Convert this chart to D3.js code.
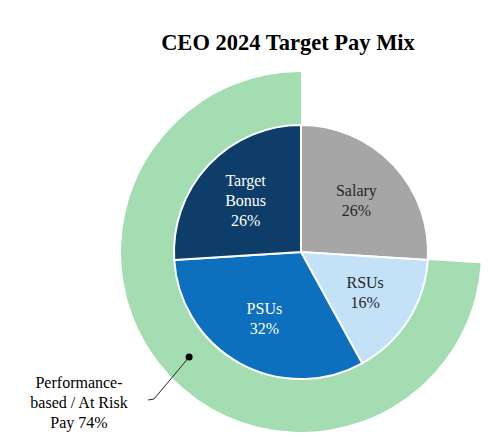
<!DOCTYPE html>
<head>
<meta charset="utf-8">
<title>CEO 2024 Target Pay Mix</title>
<script src="https://d3js.org/d3.v7.min.js"></script>
<style type="text/css">
body { margin: 0; background: #fff; }
text { font-family: "Liberation Serif", "Times New Roman", serif; }
</style>
</head>

<body>
<script type="text/javascript">

// data
const categories = ["Salary", "RSUs", "PSUs", "Target Bonus"];
const shares = [26, 16, 32, 26];
const sliceColors = ["#a6a6a6", "#c3e2f8", "#0c70be", "#0d3d68"];
const textColors = ["#262626", "#262626", "#ffffff", "#ffffff"];
const labelLines = [["Salary"], ["RSUs"], ["PSUs"], ["Target", "Bonus"]];

// outer ring: everything except salary
const ringLabel = ["Performance-", "based / At Risk", "Pay 74%"];
const ringShare = 74;

// sizes
const svgW = 488, svgH = 437;
const cx = 301, cy = 252;
const rPie = 127, rRing = 180;

const svg = d3.select("body").append("svg")
    .attr("width", svgW)
    .attr("height", svgH);

// title
svg.append("text")
    .attr("x", 288)
    .attr("y", 50)
    .attr("text-anchor", "middle")
    .attr("font-weight", "bold")
    .attr("font-size", 22.5)
    .attr("fill", "#000")
    .text("CEO 2024 Target Pay Mix");

const g = svg.append("g").attr("transform", "translate(" + [cx, cy] + ")");

const pie = d3.pie().sort(null).value(d => d);
const arcs = pie(shares);

// ring starts where salary ends
const ringStart = arcs[0].endAngle;
const ringArc = d3.arc().innerRadius(rPie).outerRadius(rRing);
const ringD = { startAngle: ringStart, endAngle: 2 * Math.PI };

g.append("path")
    .attr("d", ringArc(ringD))
    .attr("fill", "#a3ddb1");

// inner pie
const arc = d3.arc().innerRadius(0).outerRadius(rPie);
const labelArc = d3.arc().innerRadius(152).outerRadius(0);

g.selectAll("path.slice")
    .data(arcs)
    .enter()
    .append("path")
    .attr("class", "slice")
    .attr("d", arc)
    .attr("fill", (d, i) => sliceColors[i])
    .attr("stroke", "#fff")
    .attr("stroke-width", 2);

// slice labels
const lh = 20;
g.selectAll("text.lbl")
    .data(arcs)
    .enter()
    .append("text")
    .attr("class", "lbl")
    .attr("text-anchor", "middle")
    .attr("font-size", 16)
    .attr("fill", (d, i) => textColors[i])
    .each(function (d, i) {
        const c = labelArc.centroid(d);
        const lines = labelLines[i].concat([shares[i] + "%"]);
        const y0 = c[1] - (lines.length - 1) * lh / 2;
        d3.select(this).selectAll("tspan")
            .data(lines)
            .enter()
            .append("tspan")
            .attr("x", c[0])
            .attr("y", (t, j) => y0 + j * lh)
            .attr("dy", "0.35em")
            .text(t => t);
    });

// leader to ring
const dot = ringArc.centroid(ringD);
g.append("circle")
    .attr("cx", dot[0])
    .attr("cy", dot[1])
    .attr("r", 3.5)
    .attr("fill", "#000");

g.append("polyline")
    .attr("points", [[dot[0], dot[1]], [154 - cx, 399 - cy], [148 - cx, 400 - cy]].join(" "))
    .attr("fill", "none")
    .attr("stroke", "#262626")
    .attr("stroke-width", 1);

svg.append("text")
    .attr("text-anchor", "middle")
    .attr("font-size", 16)
    .attr("fill", "#000")
    .selectAll("tspan")
    .data(ringLabel)
    .enter()
    .append("tspan")
    .attr("x", 79)
    .attr("y", (t, j) => 382 + j * 20)
    .attr("dy", "0.35em")
    .text(t => t);

</script>
</body>
